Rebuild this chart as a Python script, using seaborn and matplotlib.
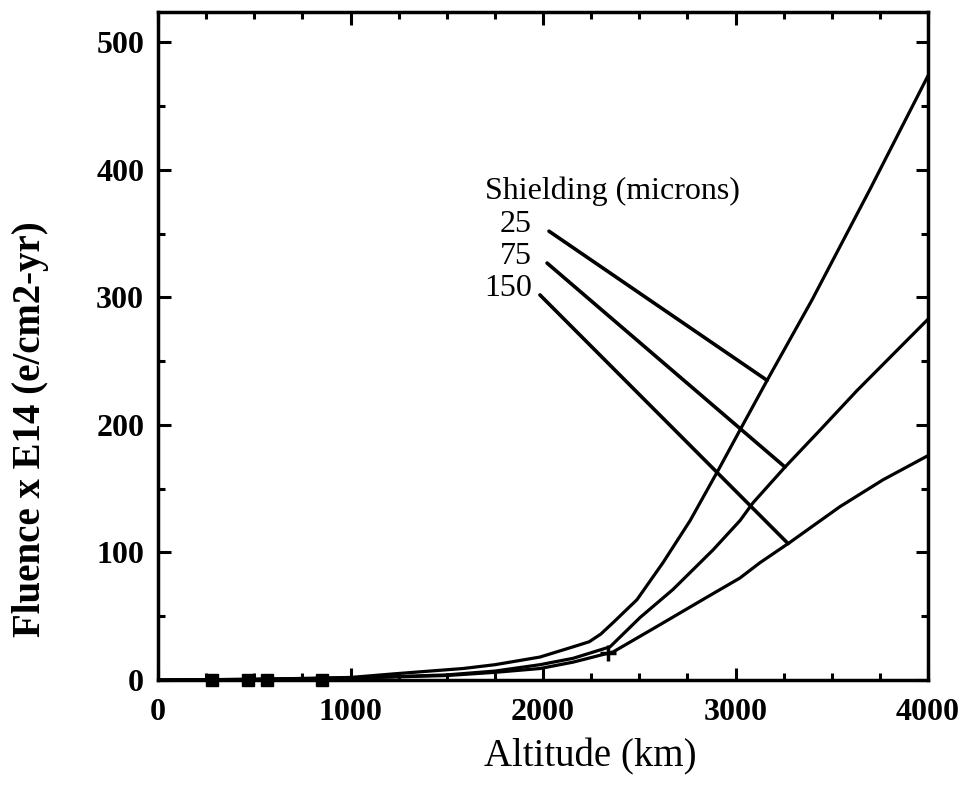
# -*- coding: utf-8 -*-
import matplotlib
matplotlib.use("Agg")
import matplotlib.pyplot as plt
import pandas as pd
import seaborn as sns
import numpy as np
from matplotlib.ticker import MultipleLocator

sns.set_style("ticks")
plt.rcParams['font.family'] = ['Liberation Serif', 'DejaVu Serif']
plt.rcParams['text.color'] = 'black'
plt.rcParams['axes.labelcolor'] = 'black'
plt.rcParams['xtick.color'] = 'black'
plt.rcParams['ytick.color'] = 'black'

# fluence curves (altitude km, fluence x E14)
alt_25 = [0, 500, 1000, 1240, 1584, 1750, 1984, 2156, 2240, 2300, 2364, 2488, 2623, 2764, 2919, 3023, 3164, 3397, 3699, 4000]
flu_25 = [0, 0.5, 2, 5, 9, 12, 18, 26, 30, 36, 45, 63, 92, 125, 167, 196, 235, 298, 385, 474]

alt_75 = [0, 500, 1000, 1500, 1750, 1984, 2156, 2348, 2504, 2675, 2883, 3023, 3091, 3257, 3439, 3631, 3855, 4000]
flu_75 = [0, 0.5, 1.5, 4, 7, 12, 17, 26, 49, 71, 102, 125, 139, 167, 196, 227, 261, 283]

alt_150 = [0, 500, 1000, 1500, 1750, 1984, 2156, 2364, 2592, 2852, 3023, 3127, 3283, 3543, 3766, 4000]
flu_150 = [0, 0.5, 1.5, 3.5, 6, 9, 14, 22, 42, 65, 80, 92, 108, 136, 157, 176]

# odd data markers near the axis
sq_alt = [280, 465, 565, 850]
sq_flu = [0, 0, 0, 0]
plus_alt = [2338]
plus_flu = [21]

labels = ["25", "75", "150"]
label_y = [357, 332, 307]
leader_start = [(2031, 352), (2021, 327), (1984, 302)]
leader_end_alt = [3164, 3257, 3273]

fig, ax = plt.subplots(figsize=(9.66, 7.93), dpi=100)
fig.subplots_adjust(left=0.1636, right=0.9607, bottom=0.1425, top=0.985)

curves = [(alt_25, flu_25), (alt_75, flu_75), (alt_150, flu_150)]
for a, f in curves:
    sns.lineplot(x=a, y=f, ax=ax, color='black', linewidth=2.3, sort=False)

ax.plot(sq_alt, sq_flu, 's', color='black', markersize=8, clip_on=False)
ax.plot(plus_alt, plus_flu, '+', color='black', markersize=12, mew=2.5)

# labels + leader lines
ax.text(1700, 383, "Shielding (microns)", fontsize=23, ha='left', va='center')
for lab, ly, st, ea, (a, f) in zip(labels, label_y, leader_start, leader_end_alt, curves):
    ax.text(1943, ly, lab, fontsize=23, ha='right', va='center')
    ey = np.interp(ea, a, f)
    ax.plot([st[0], ea], [st[1], ey], color='black', linewidth=2.6, solid_capstyle='round')

ax.set_xlim(0, 4000)
ax.set_ylim(0, 524)
ax.xaxis.set_major_locator(MultipleLocator(1000))
ax.xaxis.set_minor_locator(MultipleLocator(250))
ax.yaxis.set_major_locator(MultipleLocator(100))
ax.yaxis.set_minor_locator(MultipleLocator(50))

ax.tick_params(which='both', direction='in', top=True, right=True, width=2.2, color='black')
ax.tick_params(which='major', length=9, labelsize=23)
ax.tick_params(which='minor', length=5)
ax.tick_params(axis='x', pad=13)
ax.tick_params(axis='y', pad=10)
for lbl in ax.get_xticklabels() + ax.get_yticklabels():
    lbl.set_fontweight('bold')

for sp in ax.spines.values():
    sp.set_linewidth(2.5)
    sp.set_color('black')

ax.set_xlabel("Altitude (km)", fontsize=28)
ax.xaxis.set_label_coords(0.562, -0.087)
ax.set_ylabel("Fluence x E14 (e/cm2-yr)", fontsize=28, fontweight='bold')
ax.yaxis.label.set_verticalalignment('center')
ax.yaxis.set_label_coords(-0.166, 0.376)

fig.savefig("out.png", dpi=100)
